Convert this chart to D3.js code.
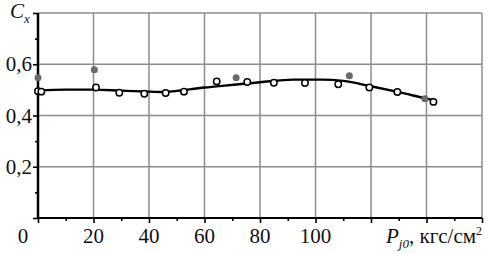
<!DOCTYPE html>
<html>
<head>
<meta charset="utf-8">
<script src="https://cdn.jsdelivr.net/npm/d3@7"></script>
<style>
  body { margin: 0; background: #fff; }
  svg text, svg tspan { font-family: "Liberation Serif", serif !important; }
</style>
</head>
<body>
<div id="chart"></div>
<script>
// Smoothed curve Cx(Pj0)
const curveP = [0, 10, 20, 30, 44, 60, 80, 92, 102, 110, 120, 130, 140, 143];
const curveC = [0.497, 0.501, 0.501, 0.497, 0.492, 0.509, 0.530, 0.540, 0.540, 0.535, 0.514, 0.491, 0.466, 0.459];

// Open circles
const openP = [0, 1.2, 20.9, 29.3, 38.3, 46, 52.6, 64.4, 75.4, 85, 96.2, 108.2, 119.4, 129.5, 142.5];
const openC = [0.495, 0.493, 0.509, 0.489, 0.485, 0.488, 0.493, 0.533, 0.531, 0.528, 0.527, 0.522, 0.509, 0.492, 0.453];

// Filled grey points
const fillP = [0, 20.3, 71.4, 112.2, 139.4];
const fillC = [0.547, 0.579, 0.547, 0.555, 0.465];

const xTickLabels = [0, 20, 40, 60, 80, 100];
const yTickLabels = [0.2, 0.4, 0.6];

const W = 493, H = 254;
const margin = { top: 13, right: 11, bottom: 36, left: 38 };

const svg = d3.select("#chart").append("svg")
    .attr("width", W)
    .attr("height", H)
    .attr("font-family", "Liberation Serif");

const x = d3.scaleLinear().domain([0, 160]).range([margin.left, W - margin.right]);
const y = d3.scaleLinear().domain([0, 0.8]).range([H - margin.bottom, margin.top]);

// grid
svg.append("g")
    .selectAll("line")
    .data(d3.range(20, 161, 20))
    .enter().append("line")
    .attr("x1", d => x(d)).attr("x2", d => x(d))
    .attr("y1", y(0)).attr("y2", y(0.8))
    .style("stroke", "#8c8c8c")
    .style("stroke-width", 1.5);

svg.append("g")
    .selectAll("line")
    .data([0.2, 0.4, 0.6, 0.8])
    .enter().append("line")
    .attr("x1", x(0)).attr("x2", x(160))
    .attr("y1", d => y(d)).attr("y2", d => y(d))
    .style("stroke", "#8c8c8c")
    .style("stroke-width", 1.5);

// x axis
const xAxis = d3.axisBottom(x)
    .tickValues(d3.range(0, 161, 10))
    .tickSize(0)
    .tickFormat("");
const gx = svg.append("g")
    .attr("transform", "translate(0," + y(0) + ")")
    .call(xAxis);
gx.select(".domain").remove();
gx.selectAll(".tick text").remove();
gx.append("line")
    .attr("x1", x(0) - 1).attr("x2", x(160))
    .style("stroke", "#000").style("stroke-width", 2.2);
gx.selectAll(".tick line")
    .attr("y2", d => d % 20 === 0 ? 5 : 3)
    .style("stroke", "#000").style("stroke-width", 1.6);

svg.append("g")
    .selectAll("text")
    .data(xTickLabels)
    .enter().append("text")
    .attr("x", d => d === 0 ? x(0) - 15 : x(d))
    .attr("y", 243)
    .attr("text-anchor", "middle")
    .attr("font-size", 21)
    .attr("fill", "#111")
    .text(d => d);

// x axis title
const xt = svg.append("text")
    .attr("x", 386)
    .attr("y", 243)
    .attr("fill", "#111")
    .attr("font-size", 21);
xt.append("tspan").attr("font-style", "italic").text("P");
xt.append("tspan").attr("dy", 5).attr("font-style", "italic").attr("font-size", 13).text("j0");
xt.append("tspan").attr("dy", -5).text(", кгс/см");
xt.append("tspan").attr("dy", -8).attr("font-size", 12).text("2");

// y axis
const yAxis = d3.axisLeft(y)
    .tickValues(d3.range(0, 0.81, 0.1))
    .tickSize(0)
    .tickFormat("");
const gy = svg.append("g")
    .attr("transform", "translate(" + x(0) + ",0)")
    .call(yAxis);
gy.select(".domain").remove();
gy.selectAll(".tick text").remove();
gy.append("line")
    .attr("y1", y(0.8)).attr("y2", y(0) + 1)
    .style("stroke", "#000").style("stroke-width", 2.5);
gy.selectAll(".tick line")
    .attr("x2", (d, i) => i % 2 === 0 ? -5 : -3)
    .style("stroke", "#000").style("stroke-width", 1.6);

svg.append("g")
    .selectAll("text")
    .data(yTickLabels)
    .enter().append("text")
    .attr("x", 32)
    .attr("y", d => y(d) + 7)
    .attr("text-anchor", "end")
    .attr("font-size", 21)
    .attr("fill", "#111")
    .text(d => d3.format(".1f")(d).replace(".", ","));

// y axis title
const yt = svg.append("text")
    .attr("x", 10)
    .attr("y", 18)
    .attr("fill", "#111")
    .attr("font-size", 21)
    .attr("font-style", "italic");
yt.append("tspan").text("C");
yt.append("tspan").attr("dy", 5).attr("font-size", 13).text("x");

// curve
const curveData = curveP.map((p, i) => ({ p: p, c: curveC[i] }));
const line = d3.line()
    .x(d => x(d.p))
    .y(d => y(d.c))
    .curve(d3.curveMonotoneX);

svg.append("path")
    .datum(curveData)
    .attr("d", line)
    .style("fill", "none")
    .style("stroke", "#000")
    .style("stroke-width", 2.4);

// points
svg.append("g")
    .selectAll("circle")
    .data(fillP.map((p, i) => ({ p: p, c: fillC[i] })))
    .enter().append("circle")
    .attr("cx", d => x(d.p))
    .attr("cy", d => y(d.c))
    .attr("r", 3.5)
    .style("fill", "#6b6b6b");

svg.append("g")
    .selectAll("circle")
    .data(openP.map((p, i) => ({ p: p, c: openC[i] })))
    .enter().append("circle")
    .attr("cx", d => x(d.p))
    .attr("cy", d => y(d.c))
    .attr("r", 3.2)
    .style("fill", "#fff")
    .style("stroke", "#000")
    .style("stroke-width", 1.5);
</script>
</body>
</html>
